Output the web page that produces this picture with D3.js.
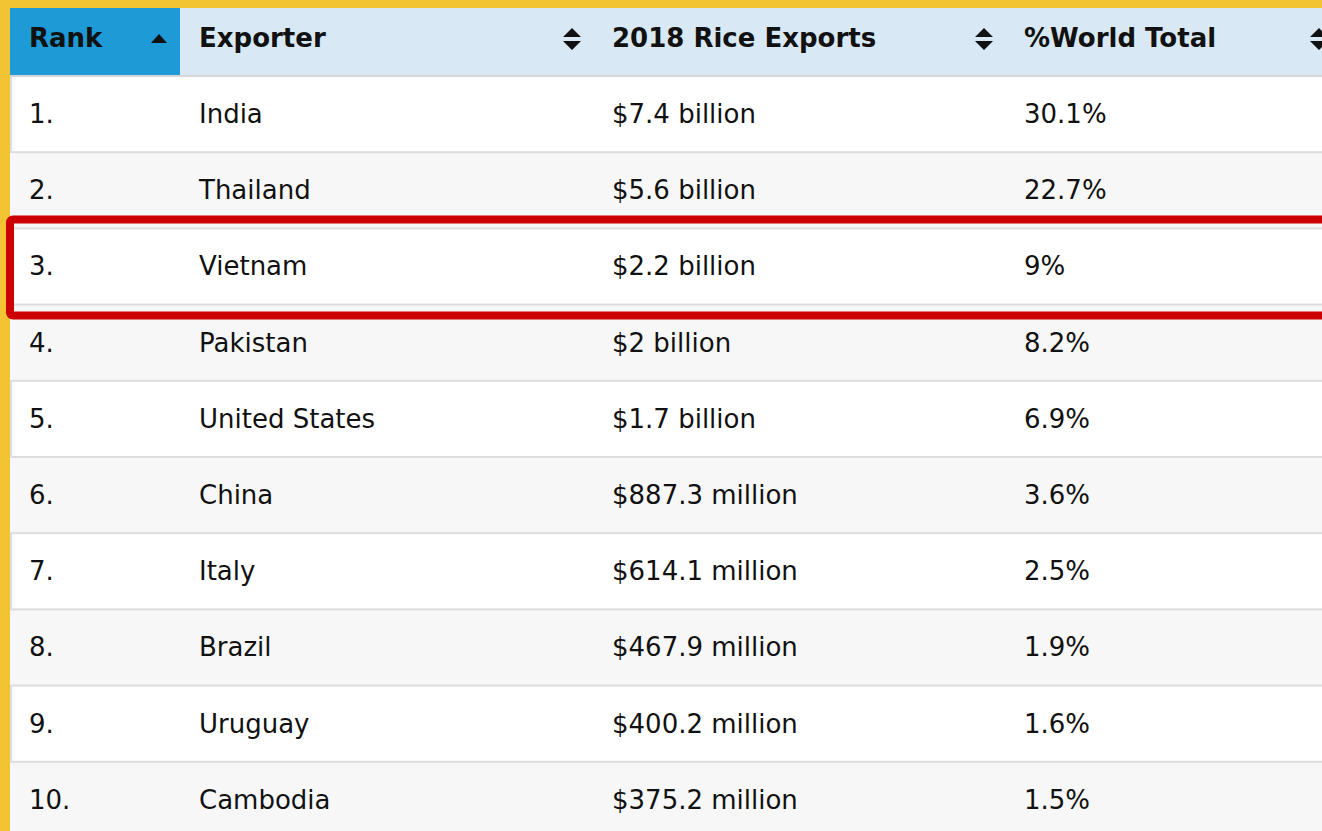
<!DOCTYPE html>
<html><head><meta charset="utf-8">
<script src="https://cdn.jsdelivr.net/npm/d3@7"></script>
<style>
html,body{margin:0;padding:0;background:#f2c332;overflow:hidden}
svg{display:block}
</style></head>
<body>
<svg id="c" width="1322" height="831"></svg>
<script>
const headers = ["Rank", "Exporter", "2018 Rice Exports", "%World Total"];
const ranks = ["1.", "2.", "3.", "4.", "5.", "6.", "7.", "8.", "9.", "10."];
const exporters = ["India", "Thailand", "Vietnam", "Pakistan", "United States", "China", "Italy", "Brazil", "Uruguay", "Cambodia"];
const riceExports = ["$7.4 billion", "$5.6 billion", "$2.2 billion", "$2 billion", "$1.7 billion", "$887.3 million", "$614.1 million", "$467.9 million", "$400.2 million", "$375.2 million"];
const worldShare = ["30.1%", "22.7%", "9%", "8.2%", "6.9%", "3.6%", "2.5%", "1.9%", "1.6%", "1.5%"];
const highlighted = "Vietnam";

(function () {
const svg = d3.select("#c");
const W = 1322;
const tLeft = 10, tTop = 8, headH = 68, rowH = 76.2;

const colEdges = [10, 180, 593, 1005, 1340];
const colStart = i => colEdges[i];
const colEnd = i => colEdges[i + 1];

const y = d3.scaleBand().domain(ranks).range([tTop + headH, tTop + headH + rowH * ranks.length]).paddingInner(0);

const rows = ranks.map((r, i) => ({rank: r, exporter: exporters[i], exp: riceExports[i], share: worldShare[i], i}));

// header
const hg = svg.append("g");
headers.forEach((h, i) => {
  hg.append("rect").attr("x", colStart(i)).attr("y", tTop).attr("width", colEnd(i) - colStart(i)).attr("height", headH)
    .attr("fill", i === 0 ? "#1e9ad6" : "#d8e9f5");
  hg.append("text").attr("x", colStart(i) + 19).attr("y", tTop + 39)
    .attr("font-family", "DejaVu Sans, Verdana, sans-serif").attr("font-weight", "bold").attr("font-size", 26)
    .attr("fill", "#111").text(h);
  const cx = colEnd(i) - 21, cy = tTop + 31;
  if (i === 0) {
    hg.append("path").attr("d", `M${cx-8},${cy+4}L${cx+8},${cy+4}L${cx},${cy-5}Z`).attr("fill", "#111");
  } else {
    hg.append("path").attr("d", `M${cx-9},${cy-2}L${cx+9},${cy-2}L${cx},${cy-11}Z M${cx-9},${cy+2}L${cx+9},${cy+2}L${cx},${cy+11}Z`).attr("fill", "#111");
  }
});

// body rows
const rg = svg.append("g").selectAll("g").data(rows).join("g")
  .attr("transform", d => `translate(0,${y(d.rank)})`);
rg.append("rect").attr("x", tLeft).attr("y", 0)
  .attr("width", W + 10).attr("height", y.bandwidth())
  .attr("fill", d => d.i % 2 === 0 ? "#ffffff" : "#f7f7f7");

// borders of the white rows
svg.append("g").selectAll("rect").data(rows.filter(d => d.i % 2 === 0)).join("rect")
  .attr("x", tLeft + 1).attr("y", d => y(d.rank))
  .attr("width", W + 10).attr("height", y.bandwidth())
  .attr("fill", "none").attr("stroke", "#dddddd").attr("stroke-width", 2);

hg.raise();
svg.append("line").attr("x1", tLeft).attr("x2", W).attr("y1", tTop + headH).attr("y2", tTop + headH).attr("stroke", "#d6d6d6").attr("stroke-width", 2);

const cellKeys = ["rank", "exporter", "exp", "share"];
cellKeys.forEach((k, ci) => {
  rg.append("text").attr("x", colStart(ci) + 19).attr("y", y.bandwidth() / 2 + 9)
    .attr("font-family", "DejaVu Sans, Verdana, sans-serif").attr("font-size", 26)
    .attr("fill", "#111").text(d => d[k]);
});

// highlight box
const hr = rows.find(d => d.exporter === highlighted);
svg.append("rect").attr("x", 10).attr("y", y(hr.rank) - 9).attr("width", W + 20).attr("height", y.bandwidth() + 20)
  .attr("rx", 3).attr("fill", "none").attr("stroke", "#cc0000").attr("stroke-width", 8);
})();
</script>
</body></html>
